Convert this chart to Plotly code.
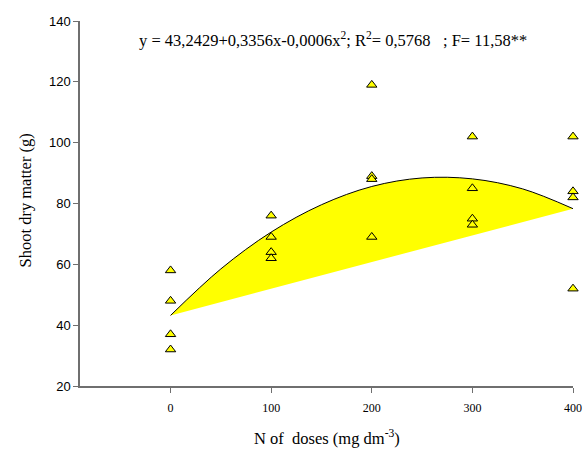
import plotly.graph_objects as go

# Observed data
dose_x = [0, 0, 0, 0, 100, 100, 100, 100, 200, 200, 200, 200,
          300, 300, 300, 300, 400, 400, 400, 400]
shoot_y = [58, 48, 37, 32, 76, 69, 64, 62, 119, 89, 88, 69,
           102, 85, 75, 73, 102, 84, 82, 52]

# Fitted curve
curve_x = [0, 50, 100, 150, 200, 250, 300, 350, 400]
curve_y = [43.2, 58.5, 70.6, 79.6, 85.6, 88.4, 88.1, 84.8, 78.3]

x_ticks = [0, 100, 200, 300, 400]
y_ticks = [20, 40, 60, 80, 100, 120, 140]

equation = "y = 43,2429+0,3356x-0,0006x<sup>2</sup>; R<sup>2</sup>= 0,5768   ; F= 11,58**"
x_title = "N of  doses (mg dm<sup>-3</sup>)"
y_title = "Shoot dry matter (g)"

fig = go.Figure()
fig.add_trace(go.Scatter(x=curve_x, y=curve_y, mode="lines", fill="toself",
                         fillcolor="#ffff00", line=dict(width=0, shape="spline"),
                         hoverinfo="skip", showlegend=False))
fig.add_trace(go.Scatter(x=curve_x, y=curve_y, mode="lines",
                         line=dict(color="black", width=1, shape="spline"),
                         showlegend=False))
fig.add_trace(go.Scatter(x=dose_x, y=shoot_y, mode="markers", cliponaxis=False,
                         marker=dict(symbol="triangle-up", size=9, color="#ffff00",
                                     line=dict(color="black", width=1)),
                         showlegend=False))

axis_col = "#6f6f6f"
serif = "Liberation Serif"
fig.update_layout(
    width=587, height=450,
    margin=dict(l=80, r=14, t=21, b=64),
    plot_bgcolor="white", paper_bgcolor="white",
    xaxis=dict(range=[-90, 400], tickvals=x_ticks, showgrid=False, zeroline=False,
               showline=True, linecolor=axis_col, linewidth=1.5, automargin=False,
               ticks="outside", ticklen=5, tickcolor=axis_col,
               ticklabelstandoff=5,
               tickfont=dict(family=serif, size=12, color="black")),
    yaxis=dict(range=[20, 140], tickvals=y_ticks, showgrid=False, zeroline=False,
               showline=True, linecolor=axis_col, linewidth=1.5, automargin=False,
               ticks="outside", ticklen=5, tickcolor=axis_col,
               tickfont=dict(family="Liberation Sans", size=13, color="black")),
    annotations=[
        dict(text=equation, xref="paper", yref="paper", x=0.1156, y=0.948,
             xanchor="left", yanchor="middle", showarrow=False,
             font=dict(family=serif, size=16.5, color="black")),
        dict(text=x_title, xref="paper", yref="paper", x=0.5, y=0,
             xanchor="center", yanchor="middle", yshift=-51, showarrow=False,
             font=dict(family=serif, size=16.5, color="black")),
        dict(text=y_title, xref="paper", yref="paper", x=0, y=0.5,
             xanchor="center", yanchor="middle", xshift=-55, yshift=3,
             textangle=-90, showarrow=False,
             font=dict(family=serif, size=16.5, color="black")),
    ],
)

fig.write_html("out.html", config={"displayModeBar": False},
               post_script="document.body.style.margin='0';")
